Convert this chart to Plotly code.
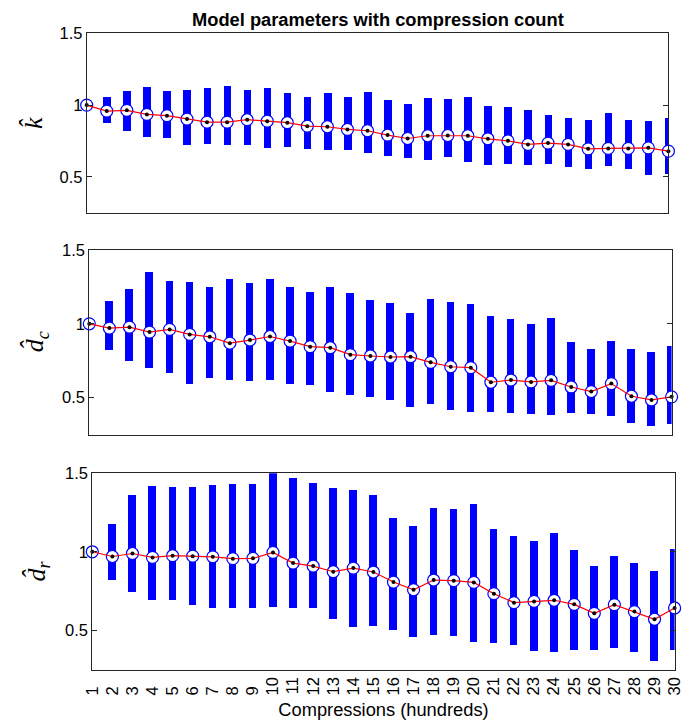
import plotly.graph_objects as go

# ---------------- data ----------------
compressions = list(range(1, 31))
tick_labels = [str(i) for i in compressions]

k_mean = [1.000, 0.958, 0.963, 0.935, 0.926, 0.902, 0.881, 0.881, 0.898, 0.888,
          0.877, 0.853, 0.849, 0.830, 0.821, 0.791, 0.767, 0.786, 0.788, 0.786,
          0.765, 0.751, 0.726, 0.735, 0.726, 0.695, 0.698, 0.698, 0.702, 0.679]
k_high = [1.000, 1.053, 1.095, 1.126, 1.098, 1.105, 1.119, 1.133, 1.102, 1.116,
          1.084, 1.056, 1.081, 1.053, 1.091, 1.035, 1.005, 1.047, 1.040, 1.051,
          0.991, 0.986, 0.967, 0.930, 0.909, 0.893, 0.942, 0.893, 0.886, 0.907]
k_low = [1.000, 0.872, 0.819, 0.774, 0.765, 0.719, 0.726, 0.721, 0.721, 0.698,
         0.705, 0.691, 0.686, 0.684, 0.667, 0.644, 0.628, 0.616, 0.633, 0.598,
         0.577, 0.584, 0.581, 0.586, 0.563, 0.551, 0.570, 0.549, 0.512, 0.519]

dc_mean = [1.000, 0.971, 0.977, 0.944, 0.962, 0.928, 0.912, 0.869, 0.890, 0.914,
           0.883, 0.845, 0.838, 0.791, 0.782, 0.775, 0.777, 0.739, 0.709, 0.703,
           0.604, 0.619, 0.606, 0.617, 0.572, 0.541, 0.595, 0.509, 0.484, 0.505]
dc_high = [1.000, 1.155, 1.239, 1.354, 1.293, 1.286, 1.248, 1.302, 1.275, 1.302,
           1.252, 1.214, 1.252, 1.209, 1.162, 1.144, 1.070, 1.167, 1.151, 1.135,
           1.056, 1.032, 0.998, 1.038, 0.874, 0.831, 0.883, 0.829, 0.806, 0.849]
dc_low = [1.000, 0.824, 0.748, 0.698, 0.664, 0.595, 0.631, 0.617, 0.610, 0.622,
          0.592, 0.588, 0.541, 0.516, 0.507, 0.484, 0.439, 0.455, 0.414, 0.405,
          0.405, 0.399, 0.392, 0.381, 0.396, 0.387, 0.372, 0.331, 0.309, 0.322]

dr_mean = [1.000, 0.970, 0.989, 0.964, 0.975, 0.972, 0.968, 0.956, 0.958, 0.996,
           0.928, 0.909, 0.873, 0.896, 0.871, 0.807, 0.758, 0.820, 0.816, 0.805,
           0.733, 0.676, 0.684, 0.691, 0.665, 0.608, 0.663, 0.619, 0.570, 0.642]
dr_high = [1.000, 1.176, 1.360, 1.419, 1.413, 1.411, 1.424, 1.428, 1.430, 1.502,
           1.470, 1.434, 1.405, 1.390, 1.360, 1.216, 1.165, 1.278, 1.269, 1.305,
           1.142, 1.097, 1.068, 1.119, 1.011, 0.909, 0.972, 0.928, 0.877, 1.017]
dr_low = [1.000, 0.816, 0.739, 0.693, 0.691, 0.659, 0.642, 0.638, 0.638, 0.646,
          0.638, 0.640, 0.570, 0.521, 0.523, 0.502, 0.453, 0.470, 0.464, 0.421,
          0.415, 0.407, 0.364, 0.360, 0.371, 0.371, 0.385, 0.358, 0.300, 0.375]

y_ticks = [0.5, 1.0, 1.5]
y_tick_labels = ["0.5", "1", "1.5"]

title_text = "Model parameters with compression count"
x_title = "Compressions (hundreds)"

# ---------------- layout geometry (pixels) ----------------
W, H = 693, 723
panels = [  # (x0, x1, ytop, ybottom) in pixels
    (86.7, 668.4, 33.3, 212.7),
    (89.3, 671.6, 250.0, 434.5),
    (92.3, 674.6, 473.3, 669.5),
]
series = [(k_mean, k_low, k_high), (dc_mean, dc_low, dc_high), (dr_mean, dr_low, dr_high)]
ylabels = ["<i>k\u0302</i>", "<i>d\u0302</i><sub><i>c</i></sub>", "<i>d\u0302</i><sub><i>r</i></sub>"]
ylabel_x = [33, 36, 38]

fig = go.Figure()
axis_color = "#262626"
sans = "Liberation Sans, Arial, sans-serif"
tick_font = dict(family=sans, size=16.5, color="#000000")

for i, ((mean, low, high), (x0, x1, yt, yb)) in enumerate(zip(series, panels)):
    n = "" if i == 0 else str(i + 1)
    xa, ya = "x" + n, "y" + n
    heights = [h - l for h, l in zip(high, low)]
    fig.add_trace(go.Bar(x=compressions, y=heights, base=low, width=0.38,
                         marker=dict(color="#0000FF", line=dict(width=0)),
                         xaxis=xa, yaxis=ya, cliponaxis=False, showlegend=False))
    fig.add_trace(go.Scatter(x=compressions, y=mean, mode="markers",
                             marker=dict(symbol="circle", size=12, color="white",
                                         line=dict(color="#0000FF", width=1.2)),
                             xaxis=xa, yaxis=ya, cliponaxis=False, showlegend=False))
    fig.add_trace(go.Scatter(x=compressions, y=mean, mode="lines+markers",
                             line=dict(color="#FF0000", width=1.2),
                             marker=dict(symbol="circle", size=4, color="black"),
                             xaxis=xa, yaxis=ya, cliponaxis=False, showlegend=False))
    xdom = [x0 / W, x1 / W]
    ydom = [1 - yb / H, 1 - yt / H]
    last = (i == 2)
    xaxis = dict(domain=xdom, range=[1, 30], anchor=ya, automargin=False,
                 showline=True, mirror=True, linecolor=axis_color, linewidth=1,
                 showgrid=False, zeroline=False, ticks="",
                 tickmode="array", tickvals=compressions,
                 ticktext=[(t + "\u00a0\u00a0" if len(t) == 1 else t) for t in tick_labels],
                 showticklabels=last, tickangle=-90, tickfont=tick_font)
    if last:
        xaxis["title"] = dict(text=x_title, font=dict(family=sans, size=18.3, color="#000"),
                              standoff=8)
    fig.update_layout(**{
        "xaxis" + n: xaxis,
        "yaxis" + n: dict(domain=ydom, range=[0.25, 1.5], anchor=xa, automargin=False,
                          showline=True, mirror="ticks", linecolor=axis_color, linewidth=1,
                          showgrid=False, zeroline=False, ticks="inside", ticklen=5,
                          tickcolor=axis_color, tickmode="array", tickvals=y_ticks,
                          ticktext=y_tick_labels, tickfont=tick_font),
    })
    fig.add_annotation(text=ylabels[i], textangle=-90, xref="paper", yref="paper",
                       x=ylabel_x[i] / W, y=1 - (yt + yb) / 2 / H, showarrow=False,
                       xanchor="center", yanchor="middle",
                       font=dict(family="Liberation Serif, Times New Roman, serif", size=26, color="#000"))

fig.add_annotation(text="<b>" + title_text + "</b>", xref="paper", yref="paper",
                   x=(panels[0][0] + panels[0][1]) / 2 / W, y=1 - 19 / H, showarrow=False,
                   xanchor="center", yanchor="middle",
                   font=dict(family=sans, size=18.3, color="#000"))

fig.update_layout(width=W, height=H, margin=dict(l=0, r=0, t=0, b=0, autoexpand=False),
                  paper_bgcolor="white", plot_bgcolor="white", bargap=0)

fig.write_html("out.html", config={"displayModeBar": False},
               post_script="document.body.style.margin='0';")
